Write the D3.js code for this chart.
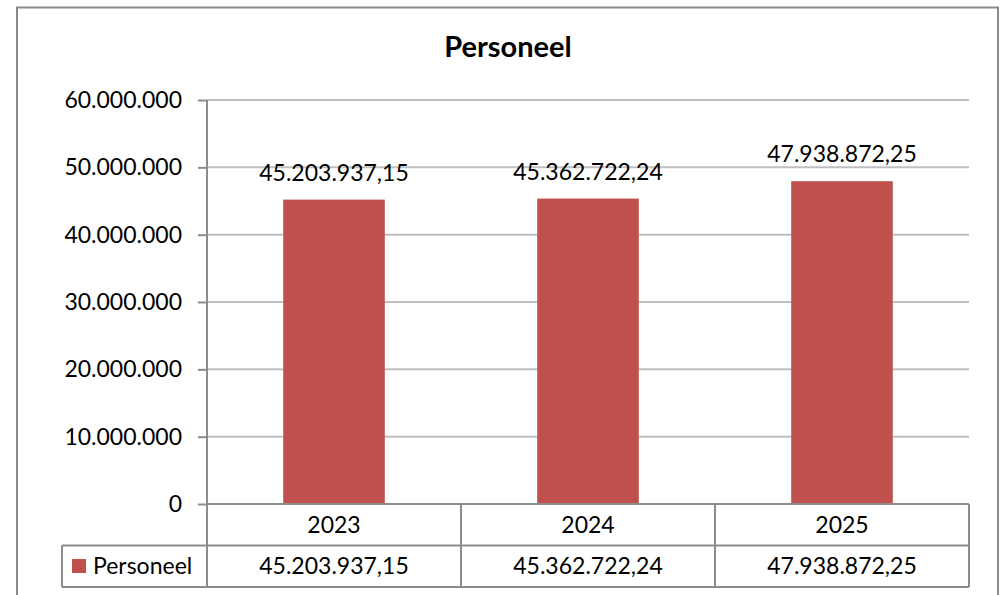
<!DOCTYPE html>
<html>
<head>
<meta charset="utf-8">
<script src="https://cdn.jsdelivr.net/npm/d3@7"></script>
<style>
  html, body { margin: 0; padding: 0; background: #fff; }
  svg { display: block; }
  text { font-family: Lato, "Open Sans", sans-serif; fill: #000; }
</style>
</head>
<body>
<svg id="chart" width="1000" height="595"></svg>
<script>
// Chart data
const categories = ["2023", "2024", "2025"];
const seriesName = "Personeel";
const values = [45203937.15, 45362722.24, 47938872.25];
const valueLabels = ["45.203.937,15", "45.362.722,24", "47.938.872,25"];
const yTicks = [0, 10000000, 20000000, 30000000, 40000000, 50000000, 60000000];
const yTickLabels = ["0", "10.000.000", "20.000.000", "30.000.000", "40.000.000", "50.000.000", "60.000.000"];

const svg = d3.select("#chart");

const plot = { left: 207, right: 969, top: 100, bottom: 504 };
const rowH = 41.5;
const legendLeft = 62;

const fontSize = 23;
const gridColor = "#c0c0c0";
const lineColor = "#8c8c8c";
const barColor = "#C0504D";

// Outer frame
svg.append("rect")
  .attr("x", 17).attr("y", 7.5)
  .attr("width", 981).attr("height", 600)
  .attr("fill", "none").attr("stroke", "#8a8a8a").attr("stroke-width", 2);

// Title
svg.append("text")
  .attr("x", 508).attr("y", 57)
  .attr("text-anchor", "middle")
  .attr("font-weight", "bold")
  .attr("font-size", 29)
  .text(seriesName);

const x = d3.scaleBand().domain(categories).range([plot.left, plot.right]).paddingInner(0).paddingOuter(0);
const y = d3.scaleLinear().domain([0, 60000000]).range([plot.bottom, plot.top]);

// Gridlines
svg.append("g").selectAll("line")
  .data(yTicks.filter(d => d > 0))
  .join("line")
  .attr("x1", plot.left).attr("x2", plot.right)
  .attr("y1", d => y(d)).attr("y2", d => y(d))
  .attr("stroke", gridColor).attr("stroke-width", 2);

// Y axis
const yAxis = d3.axisLeft(y)
  .tickValues(yTicks)
  .tickSize(9)
  .tickPadding(16)
  .tickFormat((d, i) => yTickLabels[i]);
const gy = svg.append("g").attr("transform", `translate(${plot.left},0)`).call(yAxis);
gy.select(".domain").remove();
gy.selectAll(".tick line").attr("stroke", lineColor).attr("stroke-width", 2);
gy.selectAll(".tick text")
  .attr("font-size", fontSize)
  .attr("font-family", "Lato, 'Open Sans', sans-serif")
  .attr("fill", "#000");

// Bars
const barW = x.bandwidth() * 0.4;
svg.append("g").selectAll("rect")
  .data(values)
  .join("rect")
  .attr("x", (d, i) => x(categories[i]) + (x.bandwidth() - barW) / 2)
  .attr("y", d => y(d))
  .attr("width", barW)
  .attr("height", d => y(0) - y(d))
  .attr("fill", barColor);

// Value labels above bars
svg.append("g").selectAll("text")
  .data(values)
  .join("text")
  .attr("x", (d, i) => x(categories[i]) + x.bandwidth() / 2)
  .attr("y", d => y(d) - 19)
  .attr("text-anchor", "middle")
  .attr("font-size", fontSize)
  .text((d, i) => valueLabels[i]);

// Data table under the plot
const tbl = svg.append("g").attr("stroke", lineColor).attr("stroke-width", 2).attr("fill", "none");
const r0 = plot.bottom, r1 = plot.bottom + rowH, r2 = plot.bottom + 2 * rowH;
// vertical axis line extending through the table
tbl.append("line").attr("x1", plot.left).attr("x2", plot.left).attr("y1", plot.top).attr("y2", r2);
// horizontal lines
tbl.append("line").attr("x1", plot.left).attr("x2", plot.right).attr("y1", r0).attr("y2", r0);
tbl.append("line").attr("x1", legendLeft).attr("x2", plot.right).attr("y1", r1).attr("y2", r1);
tbl.append("line").attr("x1", legendLeft).attr("x2", plot.right).attr("y1", r2).attr("y2", r2);
tbl.append("line").attr("x1", legendLeft).attr("x2", legendLeft).attr("y1", r1).attr("y2", r2);
// column separators
tbl.selectAll("line.col")
  .data(categories)
  .join("line")
  .attr("class", "col")
  .attr("x1", d => x(d) + x.bandwidth()).attr("x2", d => x(d) + x.bandwidth())
  .attr("y1", r0).attr("y2", r2);

// Category row
svg.append("g").selectAll("text")
  .data(categories)
  .join("text")
  .attr("x", d => x(d) + x.bandwidth() / 2)
  .attr("y", r0 + rowH / 2 + 8)
  .attr("text-anchor", "middle")
  .attr("font-size", fontSize)
  .text(d => d);

// Value row
svg.append("g").selectAll("text")
  .data(values)
  .join("text")
  .attr("x", (d, i) => x(categories[i]) + x.bandwidth() / 2)
  .attr("y", r1 + rowH / 2 + 8)
  .attr("text-anchor", "middle")
  .attr("font-size", fontSize)
  .text((d, i) => valueLabels[i]);

// Legend key
svg.append("rect")
  .attr("x", 72).attr("y", r1 + 13.5)
  .attr("width", 14).attr("height", 14)
  .attr("fill", barColor);
svg.append("text")
  .attr("x", 93).attr("y", r1 + rowH / 2 + 8)
  .attr("font-size", fontSize)
  .text(seriesName);
</script>
</body>
</html>
